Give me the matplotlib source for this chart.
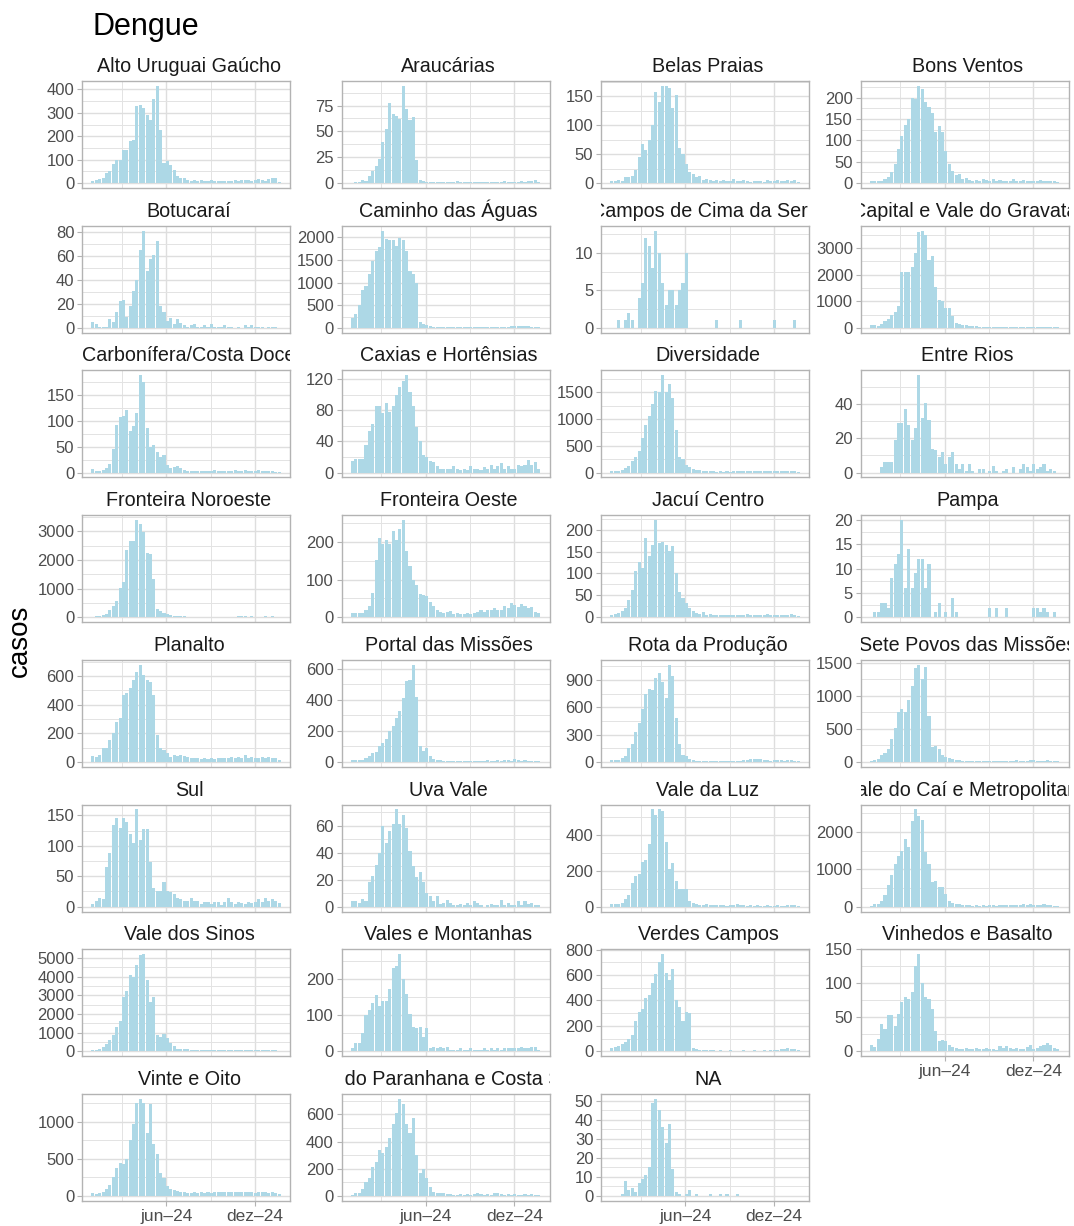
import matplotlib
matplotlib.use("Agg")
import matplotlib.pyplot as plt
import matplotlib.dates as mdates
from matplotlib.ticker import FixedLocator, FixedFormatter, NullFormatter
import pandas as pd
import numpy as np

plt.rcParams['font.family'] = ['Liberation Sans', 'DejaVu Sans']

# ---------------- data ----------------
TITLE = "Dengue"
Y_LABEL = "casos"
FIRST_WEEK = "2024-01-01"
N_WEEKS = 56
XTICK_DATES = ["2024-06-01", "2024-12-01"]
XTICK_LABELS = ["jun–24", "dez–24"]
XMINOR_DATES = ["2024-03-01", "2024-09-01"]

regions = ["Alto Uruguai Gaúcho", "Araucárias", "Belas Praias", "Bons Ventos",
           "Botucaraí", "Caminho das Águas", "Campos de Cima da Serra", "Capital e Vale do Gravataí",
           "Carbonífera/Costa Doce", "Caxias e Hortênsias", "Diversidade", "Entre Rios",
           "Fronteira Noroeste", "Fronteira Oeste", "Jacuí Centro", "Pampa",
           "Planalto", "Portal das Missões", "Rota da Produção", "Sete Povos das Missões",
           "Sul", "Uva Vale", "Vale da Luz", "Vale do Caí e Metropolitana",
           "Vale dos Sinos", "Vales e Montanhas", "Verdes Campos", "Vinhedos e Basalto",
           "Vinte e Oito", "Vale do Paranhana e Costa Serra", "NA"]

alto_uruguai = [10,13,18,22,42,50,80,100,100,143, 143,180,185,330,335,322,290,268,357,415,
                227,85,93,77,58,30,20,20,13,10, 12,8,12,10,8,12,10,8,10,8,
                10,8,12,10,12,15,12,10,15,18, 15,10,18,22,20,5]
araucarias = [0,1,1,3,2,7,12,17,23,40, 52,77,67,65,62,94,72,61,64,22,
              3,2,1,1,1,1,1,1,1,1, 1,2,1,1,1,1,1,1,1,1,
              1,1,1,1,1,2,1,1,1,1, 2,1,2,2,3,1]
belas_praias = [3,3,5,3,10,10,12,22,45,68, 58,75,100,158,140,168,168,165,130,152,
                60,50,33,20,15,10,12,5,8,5, 4,6,3,5,4,3,8,4,3,5,
                3,2,3,4,3,2,6,4,3,5, 3,4,6,4,6,2]
bons_ventos = [5,5,5,6,10,15,25,45,80,110, 137,150,200,198,228,220,190,178,165,120,
               135,120,75,45,28,18,22,10,12,8, 6,8,5,10,8,6,10,5,8,5,
               4,6,10,5,6,8,5,4,5,6, 8,6,5,4,5,3]
botucarai = [5,3,1,1,1,7,5,13,22,23, 9,18,31,40,65,81,47,57,61,72,
             18,13,6,8,3,7,4,2,1,2, 3,1,1,2,1,3,1,1,1,2,
             1,1,0,1,0,2,1,2,1,1, 1,0,1,1,1,0]
caminho_aguas = [220,310,510,830,920,1200,1480,1700,1780,2150, 1960,1950,1940,1800,1990,1950,1700,1250,1180,1000,
                 130,80,60,40,25,20,15,10,12,10, 8,10,12,10,8,10,12,15,10,12,
                 15,18,15,20,18,20,25,30,35,40, 30,45,35,25,20,10]
campos_cima = [0,0,1,0,1,2,1,0,4,6, 12,11,8,13,10,6,3,5,5,3,
               5,6,10,0,0,0,0,0,0,0, 0,1,0,0,0,0,0,0,1,0,
               0,0,0,0,0,0,0,0,1,0, 0,0,0,0,1,0]
capital_gravatai = [100,100,80,150,250,350,500,580,830,2100, 2100,2100,2300,2800,3600,3650,3500,2550,2700,1550,
                    1050,1000,750,750,450,200,150,100,100,80, 60,60,50,40,40,40,30,30,30,30,
                    30,30,30,40,40,40,40,40,40,40, 50,40,40,40,40,30]
carbonifera = [7,2,3,5,8,17,45,92,107,108, 120,80,90,114,187,175,85,50,52,40,
               30,33,15,8,10,12,8,5,3,3, 2,3,3,2,2,3,4,3,2,2,
               3,2,4,3,2,4,3,2,3,4, 3,2,3,2,1,1]
caxias = [15,18,18,18,35,53,63,85,86,77, 90,78,85,100,110,118,125,103,85,58,
          40,22,20,15,13,8,5,4,5,5, 8,4,3,5,3,8,5,4,3,7,
          5,10,5,8,12,4,8,5,5,10, 8,10,16,10,13,4]
diversidade = [20,20,30,50,80,130,220,300,400,640, 890,1050,1280,1520,1500,1820,1500,1650,1400,800,
               300,250,150,100,70,50,40,30,20,20, 20,15,20,15,20,15,20,25,20,25,
               30,25,30,35,30,35,25,30,25,20, 30,25,30,20,25,15]
entre_rios = [0,0,0,3,6,6,6,19,29,29, 37,28,19,26,57,32,41,31,14,13,
              9,12,5,9,12,5,2,5,1,5, 1,0,2,2,0,1,4,1,0,1,
              2,0,3,0,2,5,3,1,5,2, 3,5,1,2,1,0]
fronteira_noroeste = [20,30,50,80,120,250,380,580,1020,1220, 2350,2650,2680,3400,3250,2980,2250,2200,1350,300,
                      220,150,120,80,60,40,30,30,20,20, 15,20,10,10,10,15,10,15,15,20,
                      20,25,20,30,30,30,25,30,20,25, 25,30,25,30,25,20]
fronteira_oeste = [12,10,10,12,18,30,65,153,210,193, 205,195,228,205,235,258,175,135,100,85,
                   62,58,57,40,30,20,15,10,15,17, 8,10,8,8,10,8,12,15,18,15,
                   20,18,25,20,18,30,25,38,33,28, 35,30,25,28,15,10]
jacui_centro = [5,8,10,15,20,40,62,105,127,113, 180,140,165,222,170,172,165,152,162,100,
                58,45,33,20,15,10,8,12,5,8, 5,6,4,5,6,4,5,6,4,5,
                7,5,4,6,5,4,8,5,6,5, 4,6,5,8,5,3]
pampa = [0,1,1,3,3,2,8,11,13,20, 6,14,6,9,12,12,6,11,0,1,
         3,0,1,0,4,1,0,0,0,0, 0,0,0,0,0,2,0,2,0,0,
         2,0,0,0,0,0,0,0,2,2, 1,2,1,0,1,0]
planalto = [40,35,50,95,100,150,205,280,310,470, 480,520,570,630,680,610,575,560,470,185,
            100,85,60,35,45,40,45,40,35,30, 25,30,20,25,20,25,20,25,30,25,
            30,35,30,35,30,45,30,35,25,30, 35,30,35,25,30,15]
portal_missoes = [10,15,10,15,25,40,55,65,100,120, 150,200,230,280,330,410,520,525,625,415,
                  100,70,90,35,20,12,10,8,6,5, 6,5,4,5,6,5,4,5,6,8,
                  10,8,6,12,8,15,10,8,20,12, 8,10,6,5,6,4]
rota_producao = [20,20,25,40,70,150,200,330,430,580, 750,800,790,920,980,880,700,1070,950,480,
                 200,80,60,30,20,15,10,10,8,10, 8,8,10,8,8,10,8,10,15,20,
                 25,30,35,35,30,25,20,15,20,25, 20,15,20,25,15,10]
sete_povos = [20,30,50,100,130,200,350,510,750,800, 760,930,1150,1420,1470,1260,1440,700,230,240,
              200,100,80,60,40,30,25,20,20,15, 15,10,15,10,15,10,10,15,10,15,
              20,15,20,25,20,15,20,25,30,20, 15,20,25,20,15,10]
sul = [5,10,15,13,65,88,135,146,130,145, 140,120,105,160,110,127,127,73,30,26,
       25,41,25,24,20,15,12,10,10,14, 10,10,5,8,8,5,8,8,3,8,
       15,8,5,8,6,5,8,6,8,12, 8,15,10,12,10,6]
uva_vale = [4,4,3,6,4,18,23,31,40,60, 47,56,61,72,61,68,58,41,30,22,
            26,18,10,8,4,8,2,3,5,3, 1,1,2,1,3,1,4,3,1,0,
            1,2,1,1,5,1,3,1,1,4, 1,4,2,3,1,1]
vale_luz = [15,15,15,20,40,65,130,170,180,250, 260,350,540,510,540,530,360,210,240,140,
            100,100,100,30,20,15,10,10,12,8, 10,8,10,8,5,8,10,12,10,8,
            6,10,6,8,6,5,8,6,5,8, 5,6,10,8,10,6]
vale_cai = [30,80,80,150,300,570,850,1150,1350,1500, 1800,1600,2300,2600,2420,2320,1450,1150,650,680,
            530,530,340,150,100,80,60,50,40,40, 30,40,30,40,30,40,40,30,40,50,
            40,40,50,40,50,60,50,60,50,40, 50,60,50,40,30,20]
vale_sinos = [80,80,150,250,400,600,900,1300,1600,2900, 3200,4100,3950,4600,5150,5200,3800,2650,2900,900,
              750,920,700,450,300,150,150,120,100,80, 60,80,70,60,70,50,70,60,80,70,
              60,80,60,70,80,90,80,70,90,80, 70,80,90,80,70,40]
vales_montanhas = [8,22,22,50,100,115,135,155,125,140, 140,173,232,237,270,200,160,105,68,65,
                   68,40,65,10,12,10,12,8,12,5, 3,5,8,5,3,8,5,3,5,8,
                   5,8,3,8,5,8,10,8,10,8, 12,8,10,13,12,3]
verdes_campos = [30,35,40,60,70,100,130,240,310,330, 420,440,540,610,700,765,620,560,650,400,
                 345,240,310,300,30,15,10,10,8,10, 8,6,8,5,6,8,5,6,5,8,
                 6,5,8,6,5,8,6,10,8,10, 15,20,25,20,15,8]
vinhedos_basalto = [10,6,18,40,33,53,53,37,55,72, 80,77,87,125,143,100,80,77,62,30,
                    15,17,15,10,6,5,3,3,5,3, 3,5,3,3,5,4,3,2,8,5,
                    8,5,3,5,3,3,6,10,3,5, 8,10,12,10,5,3]
vinte_oito = [40,30,40,50,100,150,250,380,450,430, 500,750,970,1250,1310,1250,850,1240,700,560,
              310,240,130,100,80,70,60,50,40,40, 50,40,50,40,50,40,60,50,60,60,
              50,60,60,60,50,60,50,60,40,60, 50,60,40,50,40,30]
paranhana = [10,20,25,55,100,135,210,250,340,320, 360,430,530,610,715,680,530,460,570,300,
             170,200,130,70,30,25,20,20,15,15, 10,10,15,10,15,10,15,20,15,10,
             15,10,25,20,15,10,15,10,15,10, 10,12,10,12,10,8]
na_region = [0,0,0,1,8,3,4,2,7,9, 11,15,49,51,45,36,28,38,14,2,
             1,0,1,3,0,1,0,0,0,1, 0,0,1,0,1,0,0,1,0,0,
             0,0,0,0,0,0,0,0,0,0, 0,0,0,0,0,0]

series = [alto_uruguai, araucarias, belas_praias, bons_ventos,
          botucarai, caminho_aguas, campos_cima, capital_gravatai,
          carbonifera, caxias, diversidade, entre_rios,
          fronteira_noroeste, fronteira_oeste, jacui_centro, pampa,
          planalto, portal_missoes, rota_producao, sete_povos,
          sul, uva_vale, vale_luz, vale_cai,
          vale_sinos, vales_montanhas, verdes_campos, vinhedos_basalto,
          vinte_oito, paranhana, na_region]

y_breaks = [[0,100,200,300,400], [0,25,50,75], [0,50,100,150], [0,50,100,150,200],
            [0,20,40,60,80], [0,500,1000,1500,2000], [0,5,10], [0,1000,2000,3000],
            [0,50,100,150], [0,40,80,120], [0,500,1000,1500], [0,20,40],
            [0,1000,2000,3000], [0,100,200], [0,50,100,150,200], [0,5,10,15,20],
            [0,200,400,600], [0,200,400,600], [0,300,600,900], [0,500,1000,1500],
            [0,50,100,150], [0,20,40,60], [0,200,400], [0,1000,2000],
            [0,1000,2000,3000,4000,5000], [0,100,200], [0,200,400,600,800], [0,50,100,150],
            [0,500,1000], [0,200,400,600], [0,10,20,30,40,50]]

# ---------------- style / layout ----------------
FIG_W, FIG_H = 1074, 1226
BAR_COLOR = "#ADD8E6"
GRID_MAJOR = "#DEDEDE"
GRID_MINOR = "#E3E3E3"
BORDER = "#B3B3B3"
TICK_TXT = "#4D4D4D"

col_left = [82, 341.5, 601, 860.5]
PW, PH = 208, 107
ROW_TOP0, ROW_PITCH = 81, 144.7
STRIP_H = 30
STRIP_SHIFT = 3  # px to the right


def rect(left_px, top_px, w, h):
    return [left_px / FIG_W, 1 - (top_px + h) / FIG_H, w / FIG_W, h / FIG_H]


fig = plt.figure(figsize=(FIG_W / 100, FIG_H / 100), dpi=100)

weeks = pd.date_range(FIRST_WEEK, periods=N_WEEKS, freq="7D")
xnum = mdates.date2num(weeks.to_pydatetime())
BAR_W = 6.3
lo = xnum[0] - BAR_W / 2
hi = xnum[-1] + BAR_W / 2
span = hi - lo
xlim = (lo - 0.05 * span, hi + 0.05 * span)
xmajor = mdates.date2num(pd.to_datetime(XTICK_DATES).to_pydatetime())
xminor = mdates.date2num(pd.to_datetime(XMINOR_DATES).to_pydatetime())

n = len(regions)
bottom_idx = set()
for c in range(4):
    idxs = [i for i in range(n) if i % 4 == c]
    bottom_idx.add(max(idxs))

for i, (name, vals, brk) in enumerate(zip(regions, series, y_breaks)):
    r, c = divmod(i, 4)
    top = ROW_TOP0 + r * ROW_PITCH
    ax = fig.add_axes(rect(col_left[c], top, PW, PH))
    vals = list(vals)[:N_WEEKS] + [0] * max(0, N_WEEKS - len(vals))
    ax.bar(xnum, vals, width=BAR_W, color=BAR_COLOR, linewidth=0, zorder=2)
    m = max(vals)
    ax.set_ylim(-0.05 * m, 1.05 * m)
    ax.set_xlim(*xlim)

    # y ticks
    ax.yaxis.set_major_locator(FixedLocator(brk))
    ax.set_yticklabels([str(b) for b in brk])
    step = brk[1] - brk[0]
    minors = [b + step / 2 for b in ([brk[0] - step] + brk) if -0.05 * m <= b + step / 2 <= 1.05 * m]
    ax.yaxis.set_minor_locator(FixedLocator(minors))

    # x ticks
    ax.xaxis.set_major_locator(FixedLocator(xmajor))
    ax.xaxis.set_minor_locator(FixedLocator(xminor))
    if i in bottom_idx:
        ax.xaxis.set_major_formatter(FixedFormatter(XTICK_LABELS))
        ax.tick_params(axis="x", which="major", length=3.5, width=0.8, color=BORDER,
                       labelsize=12.5, labelcolor=TICK_TXT, pad=2)
    else:
        ax.xaxis.set_major_formatter(NullFormatter())
        ax.tick_params(axis="x", which="major", length=0)
    ax.xaxis.set_minor_formatter(NullFormatter())
    ax.tick_params(which="minor", length=0)
    ax.tick_params(axis="y", which="major", length=3.5, width=0.8, color=BORDER,
                   labelsize=12, labelcolor=TICK_TXT, pad=2)

    ax.grid(which="major", color=GRID_MAJOR, linewidth=1.0, zorder=0)
    ax.grid(which="minor", color=GRID_MINOR, linewidth=0.7, zorder=0)
    ax.set_axisbelow(True)
    for s in ax.spines.values():
        s.set_color(BORDER)
        s.set_linewidth(1.0)

    # strip (clipped to panel width)
    sax = fig.add_axes(rect(col_left[c], top - STRIP_H, PW, STRIP_H))
    sax.set_axis_off()
    sax.set_xlim(0, PW)
    sax.set_ylim(0, STRIP_H)
    sax.text(PW / 2 + STRIP_SHIFT, 9, name, ha="center", va="baseline", fontsize=14.2,
             color="#1A1A1A", clip_on=True)

fig.text(92 / FIG_W, 1 - 35 / FIG_H, TITLE, ha="left", va="baseline", fontsize=22, color="black")
fig.text(20 / FIG_W, 1 - 641 / FIG_H, Y_LABEL, ha="center", va="center", rotation=90,
         fontsize=20, color="black")

fig.savefig("out.png", dpi=100)
